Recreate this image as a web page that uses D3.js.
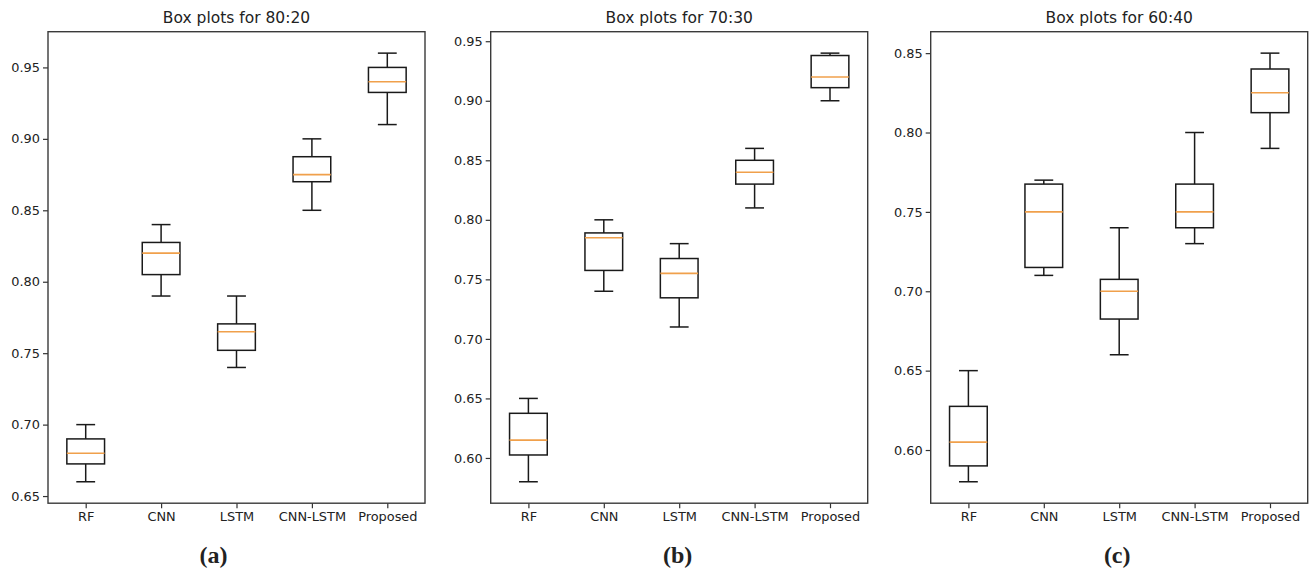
<!DOCTYPE html>
<html>
<head>
<meta charset="utf-8">
<script src="https://cdn.jsdelivr.net/npm/d3@7"></script>
<style>
  html, body { margin: 0; padding: 0; background: #fff; }
  svg { display: block; }
  text { font-family: "DejaVu Sans", sans-serif; fill: #222; }
</style>
</head>
<body>
<svg id="chart" width="1310" height="573"></svg>
<script>
// ---- data ----
const categories = ["RF", "CNN", "LSTM", "CNN-LSTM", "Proposed"];
const panelTitles = ["Box plots for 80:20", "Box plots for 70:30", "Box plots for 60:40"];
const panelLabels = ["(a)", "(b)", "(c)"];

// each row: [whiskerLow, q1, median, q3, whiskerHigh]
const stats8020 = [
  [0.66, 0.6725, 0.68, 0.69, 0.70],
  [0.79, 0.805, 0.82, 0.8275, 0.84],
  [0.74, 0.752, 0.765, 0.7705, 0.79],
  [0.85, 0.870, 0.875, 0.8875, 0.90],
  [0.91, 0.9325, 0.94, 0.95, 0.96]
];
const stats7030 = [
  [0.58, 0.6025, 0.615, 0.6375, 0.65],
  [0.74, 0.7575, 0.785, 0.789, 0.80],
  [0.71, 0.7345, 0.755, 0.7675, 0.78],
  [0.81, 0.83, 0.84, 0.85, 0.86],
  [0.90, 0.911, 0.92, 0.938, 0.94]
];
const stats6040 = [
  [0.58, 0.59, 0.605, 0.6275, 0.65],
  [0.71, 0.715, 0.75, 0.7675, 0.77],
  [0.66, 0.6825, 0.70, 0.7075, 0.74],
  [0.73, 0.74, 0.75, 0.7675, 0.80],
  [0.79, 0.8125, 0.825, 0.84, 0.85]
];
const yTicks8020 = [0.65, 0.70, 0.75, 0.80, 0.85, 0.90, 0.95];
const yTicks7030 = [0.60, 0.65, 0.70, 0.75, 0.80, 0.85, 0.90, 0.95];
const yTicks6040 = [0.60, 0.65, 0.70, 0.75, 0.80, 0.85];

const panels = [
  { stats: stats8020, ticks: yTicks8020, title: panelTitles[0], label: panelLabels[0], left: 48,    labelShift: -23 },
  { stats: stats7030, ticks: yTicks7030, title: panelTitles[1], label: panelLabels[1], left: 490.7, labelShift: -1.5 },
  { stats: stats6040, ticks: yTicks6040, title: panelTitles[2], label: panelLabels[2], left: 930.7, labelShift: -2 }
];

const plotW = 377, plotTop = 31.7, plotBottom = 503.2;
const svg = d3.select("#chart");

panels.forEach(p => {
  const g = svg.append("g");
  const lo = d3.min(p.stats, d => d[0]);
  const hi = d3.max(p.stats, d => d[4]);
  const pad = (hi - lo) * 0.05;
  const y = d3.scaleLinear().domain([lo - pad, hi + pad]).range([plotBottom, plotTop]);
  const x = d3.scaleLinear().domain([0.5, categories.length + 0.5]).range([p.left, p.left + plotW]);

  // axes
  const yAxis = d3.axisLeft(y).tickValues(p.ticks).tickFormat(d3.format(".2f")).tickSize(5).tickPadding(3);
  const xAxis = d3.axisBottom(x).tickValues(d3.range(1, categories.length + 1))
    .tickFormat(i => categories[i - 1]).tickSize(5).tickPadding(4);

  const ya = g.append("g").attr("transform", `translate(${p.left},0)`).call(yAxis);
  const xa = g.append("g").attr("transform", `translate(0,${plotBottom})`).call(xAxis);
  [ya, xa].forEach(a => {
    a.select(".domain").remove();
    a.selectAll(".tick line").attr("stroke", "#333").attr("stroke-width", 1.2);
    a.selectAll(".tick text").style("font-family", "DejaVu Sans").style("font-size", "12.9px").attr("fill", "#222");
  });

  // frame
  g.append("rect")
    .attr("x", p.left).attr("y", plotTop).attr("width", plotW).attr("height", plotBottom - plotTop)
    .attr("fill", "none").attr("stroke", "#3a3a3a").attr("stroke-width", 1.4);

  // boxes
  const bw = x(1.25) - x(1);   // half of box width (0.5 units total)
  const cw = x(1.125) - x(1);  // half of cap width
  const boxes = g.selectAll(".box").data(p.stats).enter().append("g").attr("class", "box");
  const stroke = "#1a1a1a", sw = 1.5;
  boxes.append("line") // lower whisker
    .attr("x1", (d, i) => x(i + 1)).attr("x2", (d, i) => x(i + 1))
    .attr("y1", d => y(d[0])).attr("y2", d => y(d[1]))
    .attr("stroke", stroke).attr("stroke-width", sw);
  boxes.append("line") // upper whisker
    .attr("x1", (d, i) => x(i + 1)).attr("x2", (d, i) => x(i + 1))
    .attr("y1", d => y(d[3])).attr("y2", d => y(d[4]))
    .attr("stroke", stroke).attr("stroke-width", sw);
  boxes.append("line") // lower cap
    .attr("x1", (d, i) => x(i + 1) - cw).attr("x2", (d, i) => x(i + 1) + cw)
    .attr("y1", d => y(d[0])).attr("y2", d => y(d[0]))
    .attr("stroke", stroke).attr("stroke-width", sw);
  boxes.append("line") // upper cap
    .attr("x1", (d, i) => x(i + 1) - cw).attr("x2", (d, i) => x(i + 1) + cw)
    .attr("y1", d => y(d[4])).attr("y2", d => y(d[4]))
    .attr("stroke", stroke).attr("stroke-width", sw);
  boxes.append("rect")
    .attr("x", (d, i) => x(i + 1) - bw).attr("width", 2 * bw)
    .attr("y", d => y(d[3])).attr("height", d => y(d[1]) - y(d[3]))
    .attr("fill", "none").attr("stroke", stroke).attr("stroke-width", sw);
  boxes.append("line") // median
    .attr("x1", (d, i) => x(i + 1) - bw).attr("x2", (d, i) => x(i + 1) + bw)
    .attr("y1", d => y(d[2])).attr("y2", d => y(d[2]))
    .attr("stroke", "#f0a04b").attr("stroke-width", 1.6);

  // title
  g.append("text")
    .attr("x", p.left + plotW / 2).attr("y", 23)
    .attr("text-anchor", "middle")
    .style("font-size", "15.5px")
    .text(p.title);

  // panel label
  g.append("text")
    .attr("x", p.left + plotW / 2 + p.labelShift).attr("y", 563)
    .attr("text-anchor", "middle")
    .style("font-family", "'Liberation Serif', 'Times New Roman', serif")
    .style("font-weight", "bold")
    .style("font-size", "24px")
    .attr("fill", "#111")
    .text(p.label);
});
</script>
</body>
</html>
